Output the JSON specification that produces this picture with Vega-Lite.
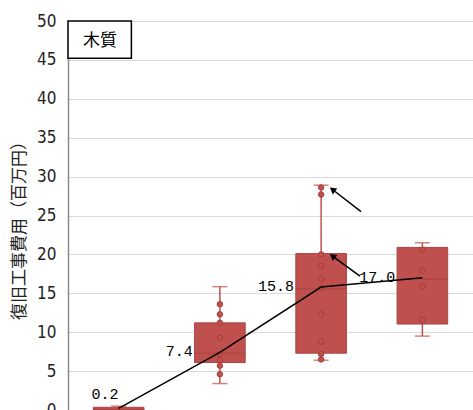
{
  "$schema": "https://vega.github.io/schema/vega-lite/v6.json",
  "width": 405,
  "height": 389,
  "autosize": {"type": "none"},
  "padding": {"left": 68, "top": 21, "right": 0, "bottom": 0},
  "background": "white",
  "config": {
    "view": {"stroke": null},
    "axisY": {
      "labelOverlap": false,
      "grid": true, "gridColor": "#d9d9d9", "gridWidth": 1,
      "domain": true, "domainColor": "#8c8c8c", "domainWidth": 1.5,
      "ticks": false, "tickSize": 0, "labelPadding": 12,
      "labelFont": "Liberation Sans Narrow, DejaVu Sans Condensed, sans-serif",
      "labelFontSize": 17, "labelColor": "#222222",
      "titleFont": "Noto Sans CJK JP", "titleFontSize": 17, "titleFontWeight": "normal",
      "titleColor": "#222222", "titleX": -49, "titleY": 205,
      "titleAngle": -90, "titleAlign": "center", "titleBaseline": "middle"
    }
  },
  "datasets": {
    "boxes": [
      {"cat": "1", "lo": 0, "q1": 0, "med": 0.1, "q3": 0.35, "hi": 0.5},
      {"cat": "2", "lo": 3.4, "q1": 6.1, "med": 7.3, "q3": 11.2, "hi": 15.85},
      {"cat": "3", "lo": 6.4, "q1": 7.3, "med": 15.6, "q3": 20.1, "hi": 28.9},
      {"cat": "4", "lo": 9.5, "q1": 11.05, "med": 16.8, "q3": 20.9, "hi": 21.5}
    ],
    "points": [
      {"cat": "2", "v": 13.6}, {"cat": "2", "v": 12.3}, {"cat": "2", "v": 11.2}, {"cat": "2", "v": 9.3},
      {"cat": "2", "v": 7.2}, {"cat": "2", "v": 6.4}, {"cat": "2", "v": 5.7}, {"cat": "2", "v": 4.6},
      {"cat": "3", "v": 28.6}, {"cat": "3", "v": 27.7}, {"cat": "3", "v": 20.0}, {"cat": "3", "v": 18.5},
      {"cat": "3", "v": 16.8}, {"cat": "3", "v": 15.7}, {"cat": "3", "v": 12.3}, {"cat": "3", "v": 8.8},
      {"cat": "3", "v": 7.2}, {"cat": "3", "v": 6.5},
      {"cat": "4", "v": 20.6}, {"cat": "4", "v": 17.9}, {"cat": "4", "v": 15.9}, {"cat": "4", "v": 11.6}
    ],
    "means": [
      {"cat": "1", "mean": 0.2, "label": "0.2"},
      {"cat": "2", "mean": 7.4, "label": "7.4"},
      {"cat": "3", "mean": 15.8, "label": "15.8"},
      {"cat": "4", "mean": 17.0, "label": "17.0"}
    ],
    "arrows": [
      {"xa": 2.894, "ya": 25.49, "xb": 2.612, "yb": 28.34},
      {"xa": 2.884, "ya": 17.22, "xb": 2.612, "yb": 19.79}
    ],
    "legendbox": [
      {"x0": 0, "x1": 0.626, "y0": 45.2, "y1": 50, "xc": 0.316, "yc": 47.4, "text": "木質"}
    ]
  },
  "resolve": {"scale": {"x": "independent"}},
  "layer": [
    {
      "data": {"name": "boxes"},
      "mark": {"type": "rule", "color": "#c0504d", "strokeWidth": 1.5},
      "encoding": {
        "x": {"field": "cat", "type": "nominal", "axis": null, "scale": {"domain": ["1", "2", "3", "4"], "paddingInner": 0, "paddingOuter": 0}},
        "y": {
          "field": "lo", "type": "quantitative",
          "scale": {"domain": [0, 50], "nice": false, "zero": true},
          "axis": {"values": [0, 5, 10, 15, 20, 25, 30, 35, 40, 45, 50], "tickCount": 11, "labelOverlap": false, "title": "復旧工事費用（百万円）"}
        },
        "y2": {"field": "hi"}
      }
    },
    {
      "data": {"name": "boxes"},
      "mark": {"type": "tick", "color": "#c0504d", "thickness": 1.5, "size": 15},
      "encoding": {
        "x": {"field": "cat", "type": "nominal", "axis": null, "scale": {"domain": ["1", "2", "3", "4"], "paddingInner": 0, "paddingOuter": 0}},
        "y": {"field": "hi", "type": "quantitative", "axis": {"values": [0, 5, 10, 15, 20, 25, 30, 35, 40, 45, 50], "tickCount": 11, "labelOverlap": false, "title": "復旧工事費用（百万円）"}}
      }
    },
    {
      "data": {"name": "boxes"},
      "mark": {"type": "tick", "color": "#c0504d", "thickness": 1.5, "size": 15},
      "encoding": {
        "x": {"field": "cat", "type": "nominal", "axis": null, "scale": {"domain": ["1", "2", "3", "4"], "paddingInner": 0, "paddingOuter": 0}},
        "y": {"field": "lo", "type": "quantitative", "axis": {"values": [0, 5, 10, 15, 20, 25, 30, 35, 40, 45, 50], "tickCount": 11, "labelOverlap": false, "title": "復旧工事費用（百万円）"}}
      }
    },
    {
      "data": {"name": "boxes"},
      "mark": {"type": "bar", "color": "#c0504d", "stroke": "#a94542", "strokeWidth": 1, "width": {"band": 0.5}},
      "encoding": {
        "x": {"field": "cat", "type": "nominal", "axis": null, "scale": {"domain": ["1", "2", "3", "4"], "paddingInner": 0, "paddingOuter": 0}},
        "y": {"field": "q1", "type": "quantitative", "axis": {"values": [0, 5, 10, 15, 20, 25, 30, 35, 40, 45, 50], "tickCount": 11, "labelOverlap": false, "title": "復旧工事費用（百万円）"}},
        "y2": {"field": "q3"}
      }
    },
    {
      "data": {"name": "boxes"},
      "mark": {"type": "tick", "color": "#9e3e3b", "thickness": 1, "size": 51},
      "encoding": {
        "x": {"field": "cat", "type": "nominal", "axis": null, "scale": {"domain": ["1", "2", "3", "4"], "paddingInner": 0, "paddingOuter": 0}},
        "y": {"field": "med", "type": "quantitative", "axis": {"values": [0, 5, 10, 15, 20, 25, 30, 35, 40, 45, 50], "tickCount": 11, "labelOverlap": false, "title": "復旧工事費用（百万円）"}}
      }
    },
    {
      "data": {"name": "points"},
      "mark": {"type": "point", "shape": "circle", "filled": false, "fill": "#c0504d", "fillOpacity": 1, "stroke": "#a33e3b", "strokeWidth": 1, "size": 30, "opacity": 1},
      "encoding": {
        "x": {"field": "cat", "type": "nominal", "axis": null, "scale": {"domain": ["1", "2", "3", "4"], "paddingInner": 0, "paddingOuter": 0}},
        "y": {"field": "v", "type": "quantitative", "axis": {"values": [0, 5, 10, 15, 20, 25, 30, 35, 40, 45, 50], "tickCount": 11, "labelOverlap": false, "title": "復旧工事費用（百万円）"}}
      }
    },
    {
      "data": {"name": "means"},
      "mark": {"type": "line", "color": "#000000", "strokeWidth": 1.5},
      "encoding": {
        "x": {"field": "cat", "type": "nominal", "axis": null, "scale": {"domain": ["1", "2", "3", "4"], "paddingInner": 0, "paddingOuter": 0}},
        "y": {"field": "mean", "type": "quantitative", "axis": {"values": [0, 5, 10, 15, 20, 25, 30, 35, 40, 45, 50], "tickCount": 11, "labelOverlap": false, "title": "復旧工事費用（百万円）"}}
      }
    },
    {
      "data": {"name": "means"},
      "transform": [{"filter": "datum.cat == '1'"}],
      "mark": {"type": "text", "align": "right", "baseline": "middle", "dx": 0, "dy": -14, "font": "Liberation Mono", "fontSize": 15, "color": "#000000"},
      "encoding": {
        "x": {"field": "cat", "type": "nominal", "axis": null, "scale": {"domain": ["1", "2", "3", "4"], "paddingInner": 0, "paddingOuter": 0}},
        "y": {"field": "mean", "type": "quantitative", "axis": {"values": [0, 5, 10, 15, 20, 25, 30, 35, 40, 45, 50], "tickCount": 11, "labelOverlap": false, "title": "復旧工事費用（百万円）"}},
        "text": {"field": "label"}
      }
    },
    {
      "data": {"name": "means"},
      "transform": [{"filter": "datum.cat != '1'"}],
      "mark": {"type": "text", "align": "right", "baseline": "middle", "dx": -27, "dy": -1, "font": "Liberation Mono", "fontSize": 15, "color": "#000000"},
      "encoding": {
        "x": {"field": "cat", "type": "nominal", "axis": null, "scale": {"domain": ["1", "2", "3", "4"], "paddingInner": 0, "paddingOuter": 0}},
        "y": {"field": "mean", "type": "quantitative", "axis": {"values": [0, 5, 10, 15, 20, 25, 30, 35, 40, 45, 50], "tickCount": 11, "labelOverlap": false, "title": "復旧工事費用（百万円）"}},
        "text": {"field": "label"}
      }
    },
    {
      "data": {"name": "arrows"},
      "mark": {"type": "rule", "color": "#000000", "strokeWidth": 1.5},
      "encoding": {
        "x": {"field": "xa", "type": "quantitative", "axis": null, "scale": {"domain": [0, 4], "nice": false, "zero": false}},
        "x2": {"field": "xb"},
        "y": {"field": "ya", "type": "quantitative", "axis": {"values": [0, 5, 10, 15, 20, 25, 30, 35, 40, 45, 50], "tickCount": 11, "labelOverlap": false, "title": "復旧工事費用（百万円）"}},
        "y2": {"field": "yb"}
      }
    },
    {
      "data": {"name": "arrows"},
      "mark": {"type": "point", "shape": "triangle-up", "filled": true, "color": "#000000", "size": 55, "angle": 307, "opacity": 1},
      "encoding": {
        "x": {"field": "xb", "type": "quantitative", "axis": null, "scale": {"domain": [0, 4], "nice": false, "zero": false}},
        "y": {"field": "yb", "type": "quantitative", "axis": {"values": [0, 5, 10, 15, 20, 25, 30, 35, 40, 45, 50], "tickCount": 11, "labelOverlap": false, "title": "復旧工事費用（百万円）"}}
      }
    },
    {
      "data": {"name": "legendbox"},
      "mark": {"type": "rect", "fill": "#ffffff", "stroke": "#000000", "strokeWidth": 1.5},
      "encoding": {
        "x": {"field": "x0", "type": "quantitative", "axis": null, "scale": {"domain": [0, 4], "nice": false, "zero": false}},
        "x2": {"field": "x1"},
        "y": {"field": "y0", "type": "quantitative", "axis": {"values": [0, 5, 10, 15, 20, 25, 30, 35, 40, 45, 50], "tickCount": 11, "labelOverlap": false, "title": "復旧工事費用（百万円）"}},
        "y2": {"field": "y1"}
      }
    },
    {
      "data": {"name": "legendbox"},
      "mark": {"type": "text", "align": "center", "baseline": "middle", "font": "Noto Sans CJK JP", "fontSize": 17, "color": "#000000"},
      "encoding": {
        "x": {"field": "xc", "type": "quantitative", "axis": null, "scale": {"domain": [0, 4], "nice": false, "zero": false}},
        "y": {"field": "yc", "type": "quantitative", "axis": {"values": [0, 5, 10, 15, 20, 25, 30, 35, 40, 45, 50], "tickCount": 11, "labelOverlap": false, "title": "復旧工事費用（百万円）"}},
        "text": {"field": "text"}
      }
    }
  ]
}
